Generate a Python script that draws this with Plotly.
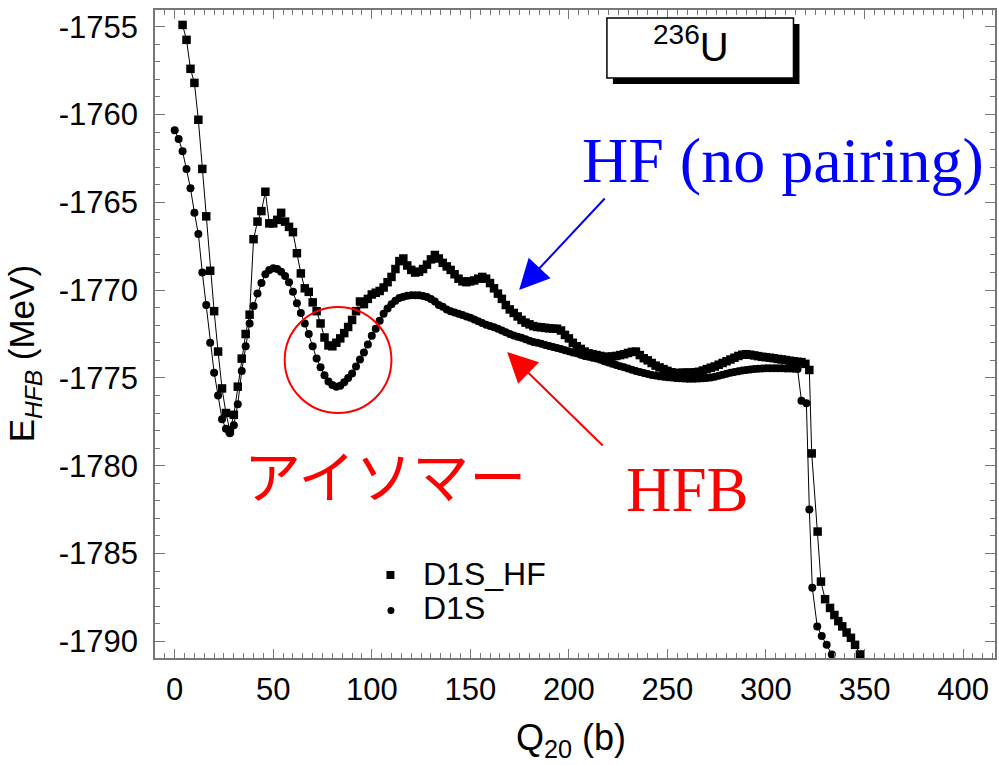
import plotly.graph_objects as go

# ---------------- data ----------------
# D1S_HF (HF, no pairing) : Q20 (b), E (MeV)
q_hf = [4, 6, 8, 10, 12, 14, 16, 18, 20, 22, 24, 26, 28, 30, 32, 34, 36, 38, 40, 42,
        44, 46, 48, 50, 52, 54, 56, 58, 60, 62, 64, 66, 68, 70, 72, 74, 76, 78, 80, 82,
        84, 86, 88, 90, 92, 94, 96, 98, 100, 102, 104, 106, 108, 110, 112, 114, 116, 118, 120, 122,
        124, 126, 128, 130, 132, 134, 136, 138, 140, 142, 144, 146, 148, 150, 152, 154, 156, 158, 160, 162,
        164, 166, 168, 170, 172, 174, 176, 178, 180, 182, 184, 186, 188, 190, 192, 194, 196, 198, 200, 202,
        204, 206, 208, 210, 212, 214, 216, 218, 220, 222, 224, 226, 228, 230, 232, 234, 236, 238, 240, 242,
        244, 246, 248, 250, 252, 254, 256, 258, 260, 262, 264, 266, 268, 270, 272, 274, 276, 278, 280, 282,
        284, 286, 288, 290, 292, 294, 296, 298, 300, 302, 304, 306, 308, 310, 312, 314, 316, 318, 320, 322,
        323.2, 326.2, 327.9, 330, 332.5, 334.7, 336.7, 338.7, 340.9, 343.1, 345.2, 347.7, 350]
e_hf = [-1754.9, -1755.75, -1757.4, -1758.2, -1760.3, -1763.1, -1765.8, -1768.9, -1771.2, -1773.5,
        -1775.6, -1777.0, -1778.0, -1777.1, -1775.5, -1773.9, -1772.5, -1771.4, -1767.1, -1766.1,
        -1765.5, -1764.4, -1766.2, -1766.2, -1766.0, -1765.6, -1766.1, -1766.4, -1766.7, -1767.9,
        -1769.05, -1769.9, -1770.1, -1770.7, -1771.2, -1771.9, -1772.7, -1773.15, -1773.2, -1773.0,
        -1772.75, -1772.45, -1772.1, -1771.7, -1771.2, -1770.65, -1770.8, -1770.5, -1770.25, -1770.15,
        -1770.05, -1769.85, -1769.55, -1769.25, -1768.8, -1768.35, -1768.2, -1768.6, -1768.85, -1769.0,
        -1768.95, -1768.8, -1768.55, -1768.25, -1768.0, -1768.2, -1768.45, -1768.65, -1768.85, -1769.1,
        -1769.35, -1769.5, -1769.55, -1769.5, -1769.45, -1769.35, -1769.25, -1769.35, -1769.6, -1769.9,
        -1770.2, -1770.5, -1770.85, -1771.1, -1771.3, -1771.5, -1771.7, -1771.85, -1771.95, -1772.05,
        -1772.1, -1772.12, -1772.15, -1772.18, -1772.2, -1772.2, -1772.3, -1772.55, -1772.75, -1773.0,
        -1773.2, -1773.35, -1773.5, -1773.6, -1773.65, -1773.7, -1773.75, -1773.8, -1773.8, -1773.78,
        -1773.75, -1773.7, -1773.65, -1773.58, -1773.52, -1773.5, -1773.7, -1773.88, -1774.0, -1774.15,
        -1774.3, -1774.4, -1774.5, -1774.6, -1774.68, -1774.72, -1774.72, -1774.7, -1774.7, -1774.7,
        -1774.68, -1774.65, -1774.58, -1774.5, -1774.42, -1774.35, -1774.25, -1774.15, -1774.05, -1773.95,
        -1773.85, -1773.75, -1773.68, -1773.65, -1773.68, -1773.72, -1773.76, -1773.8, -1773.82, -1773.85,
        -1773.88, -1773.92, -1773.95, -1773.98, -1774.02, -1774.05, -1774.08, -1774.1, -1774.2, -1774.55,
        -1779.3, -1783.75, -1786.6, -1787.6, -1788.1, -1788.5, -1788.85, -1789.15, -1789.5, -1789.8,
        -1790.2, -1790.75, -1791.2]

# D1S (HFB) : Q20 (b), E (MeV)
q_hfb = [0, 2, 4, 6, 8, 10, 12, 14, 16, 18, 20, 22, 24, 26, 28, 30, 32, 34, 36, 38,
         40, 42, 44, 46, 48, 50, 52, 54, 56, 58, 60, 62, 64, 66, 68, 70, 72, 74, 76, 78,
         80, 82, 84, 86, 88, 90, 92, 94, 96, 98, 100, 102, 104, 106, 108, 110, 112, 114, 116, 118,
         120, 122, 124, 126, 128, 130, 132, 134, 136, 138, 140, 142, 144, 146, 148, 150, 152, 154, 156, 158,
         160, 162, 164, 166, 168, 170, 172, 174, 176, 178, 180, 182, 184, 186, 188, 190, 192, 194, 196, 198,
         200, 202, 204, 206, 208, 210, 212, 214, 216, 218, 220, 222, 224, 226, 228, 230, 232, 234, 236, 238,
         240, 242, 244, 246, 248, 250, 252, 254, 256, 258, 260, 262, 264, 266, 268, 270, 272, 274, 276, 278,
         280, 282, 284, 286, 288, 290, 292, 294, 296, 298, 300, 302, 304, 306, 308, 310, 312, 314, 316,
         318, 320.5, 322, 323.5, 326, 328.3, 330.8, 333.4, 335]
e_hfb = [-1760.9, -1761.4, -1762.1, -1763.1, -1764.2, -1765.6, -1766.8, -1769.0, -1770.85, -1773.0,
         -1774.7, -1776.0, -1777.35, -1777.9, -1778.15, -1777.7, -1776.5, -1774.6, -1773.2, -1771.9,
         -1770.9, -1770.2, -1769.6, -1769.1, -1768.85, -1768.75, -1768.8, -1768.95, -1769.2, -1769.55,
         -1770.1, -1770.75, -1771.3, -1771.9, -1772.5, -1773.2, -1773.9, -1774.4, -1774.85, -1775.2,
         -1775.4, -1775.5, -1775.45, -1775.25, -1775.0, -1774.75, -1774.35, -1773.95, -1773.55, -1773.1,
         -1772.6, -1772.2, -1771.75, -1771.35, -1771.05, -1770.8, -1770.6, -1770.45, -1770.38, -1770.32,
         -1770.3, -1770.3, -1770.3, -1770.33, -1770.4, -1770.5, -1770.65, -1770.85, -1770.95, -1771.1,
         -1771.2, -1771.28, -1771.35, -1771.42, -1771.5, -1771.58, -1771.68, -1771.78, -1771.88, -1771.98,
         -1772.05, -1772.12, -1772.2, -1772.3, -1772.4, -1772.5, -1772.58, -1772.65, -1772.72, -1772.8,
         -1772.88, -1772.95, -1773.0, -1773.06, -1773.12, -1773.18, -1773.24, -1773.3, -1773.35, -1773.42,
         -1773.48, -1773.55, -1773.6, -1773.68, -1773.75, -1773.8, -1773.85, -1773.9, -1773.97, -1774.05,
         -1774.12, -1774.2, -1774.27, -1774.33, -1774.4, -1774.47, -1774.53, -1774.6, -1774.66, -1774.72,
         -1774.78, -1774.83, -1774.87, -1774.9, -1774.93, -1774.96, -1774.98, -1775.0, -1775.02, -1775.04,
         -1775.05, -1775.05, -1775.05, -1775.04, -1775.02, -1775.0, -1774.97, -1774.93, -1774.88, -1774.82,
         -1774.76, -1774.7, -1774.66, -1774.62, -1774.58, -1774.55, -1774.52, -1774.5, -1774.48, -1774.46,
         -1774.45, -1774.45, -1774.45, -1774.45, -1774.45, -1774.46, -1774.47, -1774.48, -1774.5,
         -1776.3, -1776.45, -1782.5, -1786.95, -1789.15, -1789.7, -1790.2, -1790.75, -1791.2]

x_ticks = [0, 50, 100, 150, 200, 250, 300, 350, 400]
x_labels = ["0", "50", "100", "150", "200", "250", "300", "350", "400"]
y_ticks = [-1790, -1785, -1780, -1775, -1770, -1765, -1760, -1755]
y_labels = ["-1790", "-1785", "-1780", "-1775", "-1770", "-1765", "-1760", "-1755"]

series_names = ["D1S_HF", "D1S"]

FONT = "Liberation Sans, Arial, sans-serif"
SERIF = "Liberation Serif, Times New Roman, serif"

fig = go.Figure()

fig.add_trace(go.Scatter(
    x=q_hf, y=e_hf, mode="lines+markers", name=series_names[0], showlegend=False,
    line=dict(color="black", width=1),
    marker=dict(symbol="square", size=8.5, color="black"),
))
fig.add_trace(go.Scatter(
    x=q_hfb, y=e_hfb, mode="lines+markers", name=series_names[1], showlegend=False,
    line=dict(color="black", width=1),
    marker=dict(symbol="circle", size=8, color="black"),
))

axis_common = dict(
    showline=True, linecolor="#777", linewidth=1.5, mirror="allticks",
    ticks="inside", tickcolor="#777", tickwidth=1,
    showgrid=False, zeroline=False,
    tickfont=dict(family=FONT, size=31, color="black"),
)

fig.update_xaxes(range=[-10, 416.2], tickvals=x_ticks, ticktext=x_labels, ticklen=9,
                 ticklabelstandoff=3,
                 minor=dict(dtick=5, ticklen=5, ticks="inside", tickcolor="#777", showgrid=False),
                 **axis_common)
fig.update_yaxes(range=[-1790.95, -1754.05], tickvals=y_ticks, ticktext=y_labels, ticklen=10,
                 ticklabelstandoff=9,
                 minor=dict(dtick=1, ticklen=5, ticks="inside", tickcolor="#777", showgrid=False),
                 **axis_common)

L, R, T, B = 155, 2, 10, 107
W, H = 999, 765
PW, PH = W - L - R, H - T - B


def px(xp):
    return (xp - L) / PW


def py(yp):
    return (H - B - yp) / PH


shapes = [
    # shadowed label box
    dict(type="rect", xref="paper", yref="paper", x0=px(614), x1=px(801), y0=py(84), y1=py(24),
         fillcolor="black", line=dict(width=0)),
    dict(type="rect", xref="paper", yref="paper", x0=px(608), x1=px(795), y0=py(78), y1=py(18),
         fillcolor="white", line=dict(color="black", width=1.5)),
    # red circle around the isomer
    dict(type="circle", xref="paper", yref="paper", x0=px(285), x1=px(392), y0=py(413), y1=py(307),
         line=dict(color="red", width=2)),
    # legend symbols
    dict(type="rect", xref="paper", yref="paper", x0=px(387), x1=px(395), y0=py(579), y1=py(571),
         fillcolor="black", line=dict(width=0)),
    dict(type="circle", xref="paper", yref="paper", x0=px(388), x1=px(395), y0=py(614), y1=py(607),
         fillcolor="black", line=dict(width=0)),
]


def label(x, y, text, size, color="black", family=FONT, xanchor="center", angle=0):
    return dict(xref="paper", yref="paper", x=px(x), y=py(y), text=text, showarrow=False,
                xanchor=xanchor, yanchor="middle", textangle=angle,
                font=dict(family=family, size=size, color=color))


annotations = [
    label(692, 44, "<sup>236</sup>U", 40),
    label(784, 160, "HF (no pairing)", 64, "#0000ff", SERIF),
    label(689, 490, "HFB", 63, "#ff0000", SERIF),
    label(386, 473, "アイソマー", 57, "#ff0000", "Noto Sans CJK JP"),
    # legend texts
    label(422, 574, series_names[0], 32, xanchor="left"),
    label(422, 608, series_names[1], 32, xanchor="left"),
    # axis titles
    label(24, 354, "E<sub><i>HFB</i></sub> (MeV)", 35, angle=-90),
    label(572, 740, "Q<sub>20</sub> (b)", 36),
    # arrows
    dict(xref="paper", yref="paper", x=px(520), y=py(290), ax=87, ay=-93, text="",
         showarrow=True, arrowhead=2, arrowsize=3, arrowwidth=2, arrowcolor="#0000ff"),
    dict(xref="paper", yref="paper", x=px(508), y=py(352), ax=97, ay=95, text="",
         showarrow=True, arrowhead=2, arrowsize=3, arrowwidth=2, arrowcolor="#ff0000"),
]

fig.update_layout(
    width=W, height=H,
    margin=dict(l=L, r=R, t=T, b=B),
    paper_bgcolor="white", plot_bgcolor="white",
    shapes=shapes, annotations=annotations,
    showlegend=False,
)

fig.write_html("out.html", config={"displayModeBar": False},
               post_script="document.body.style.margin='0px';")
